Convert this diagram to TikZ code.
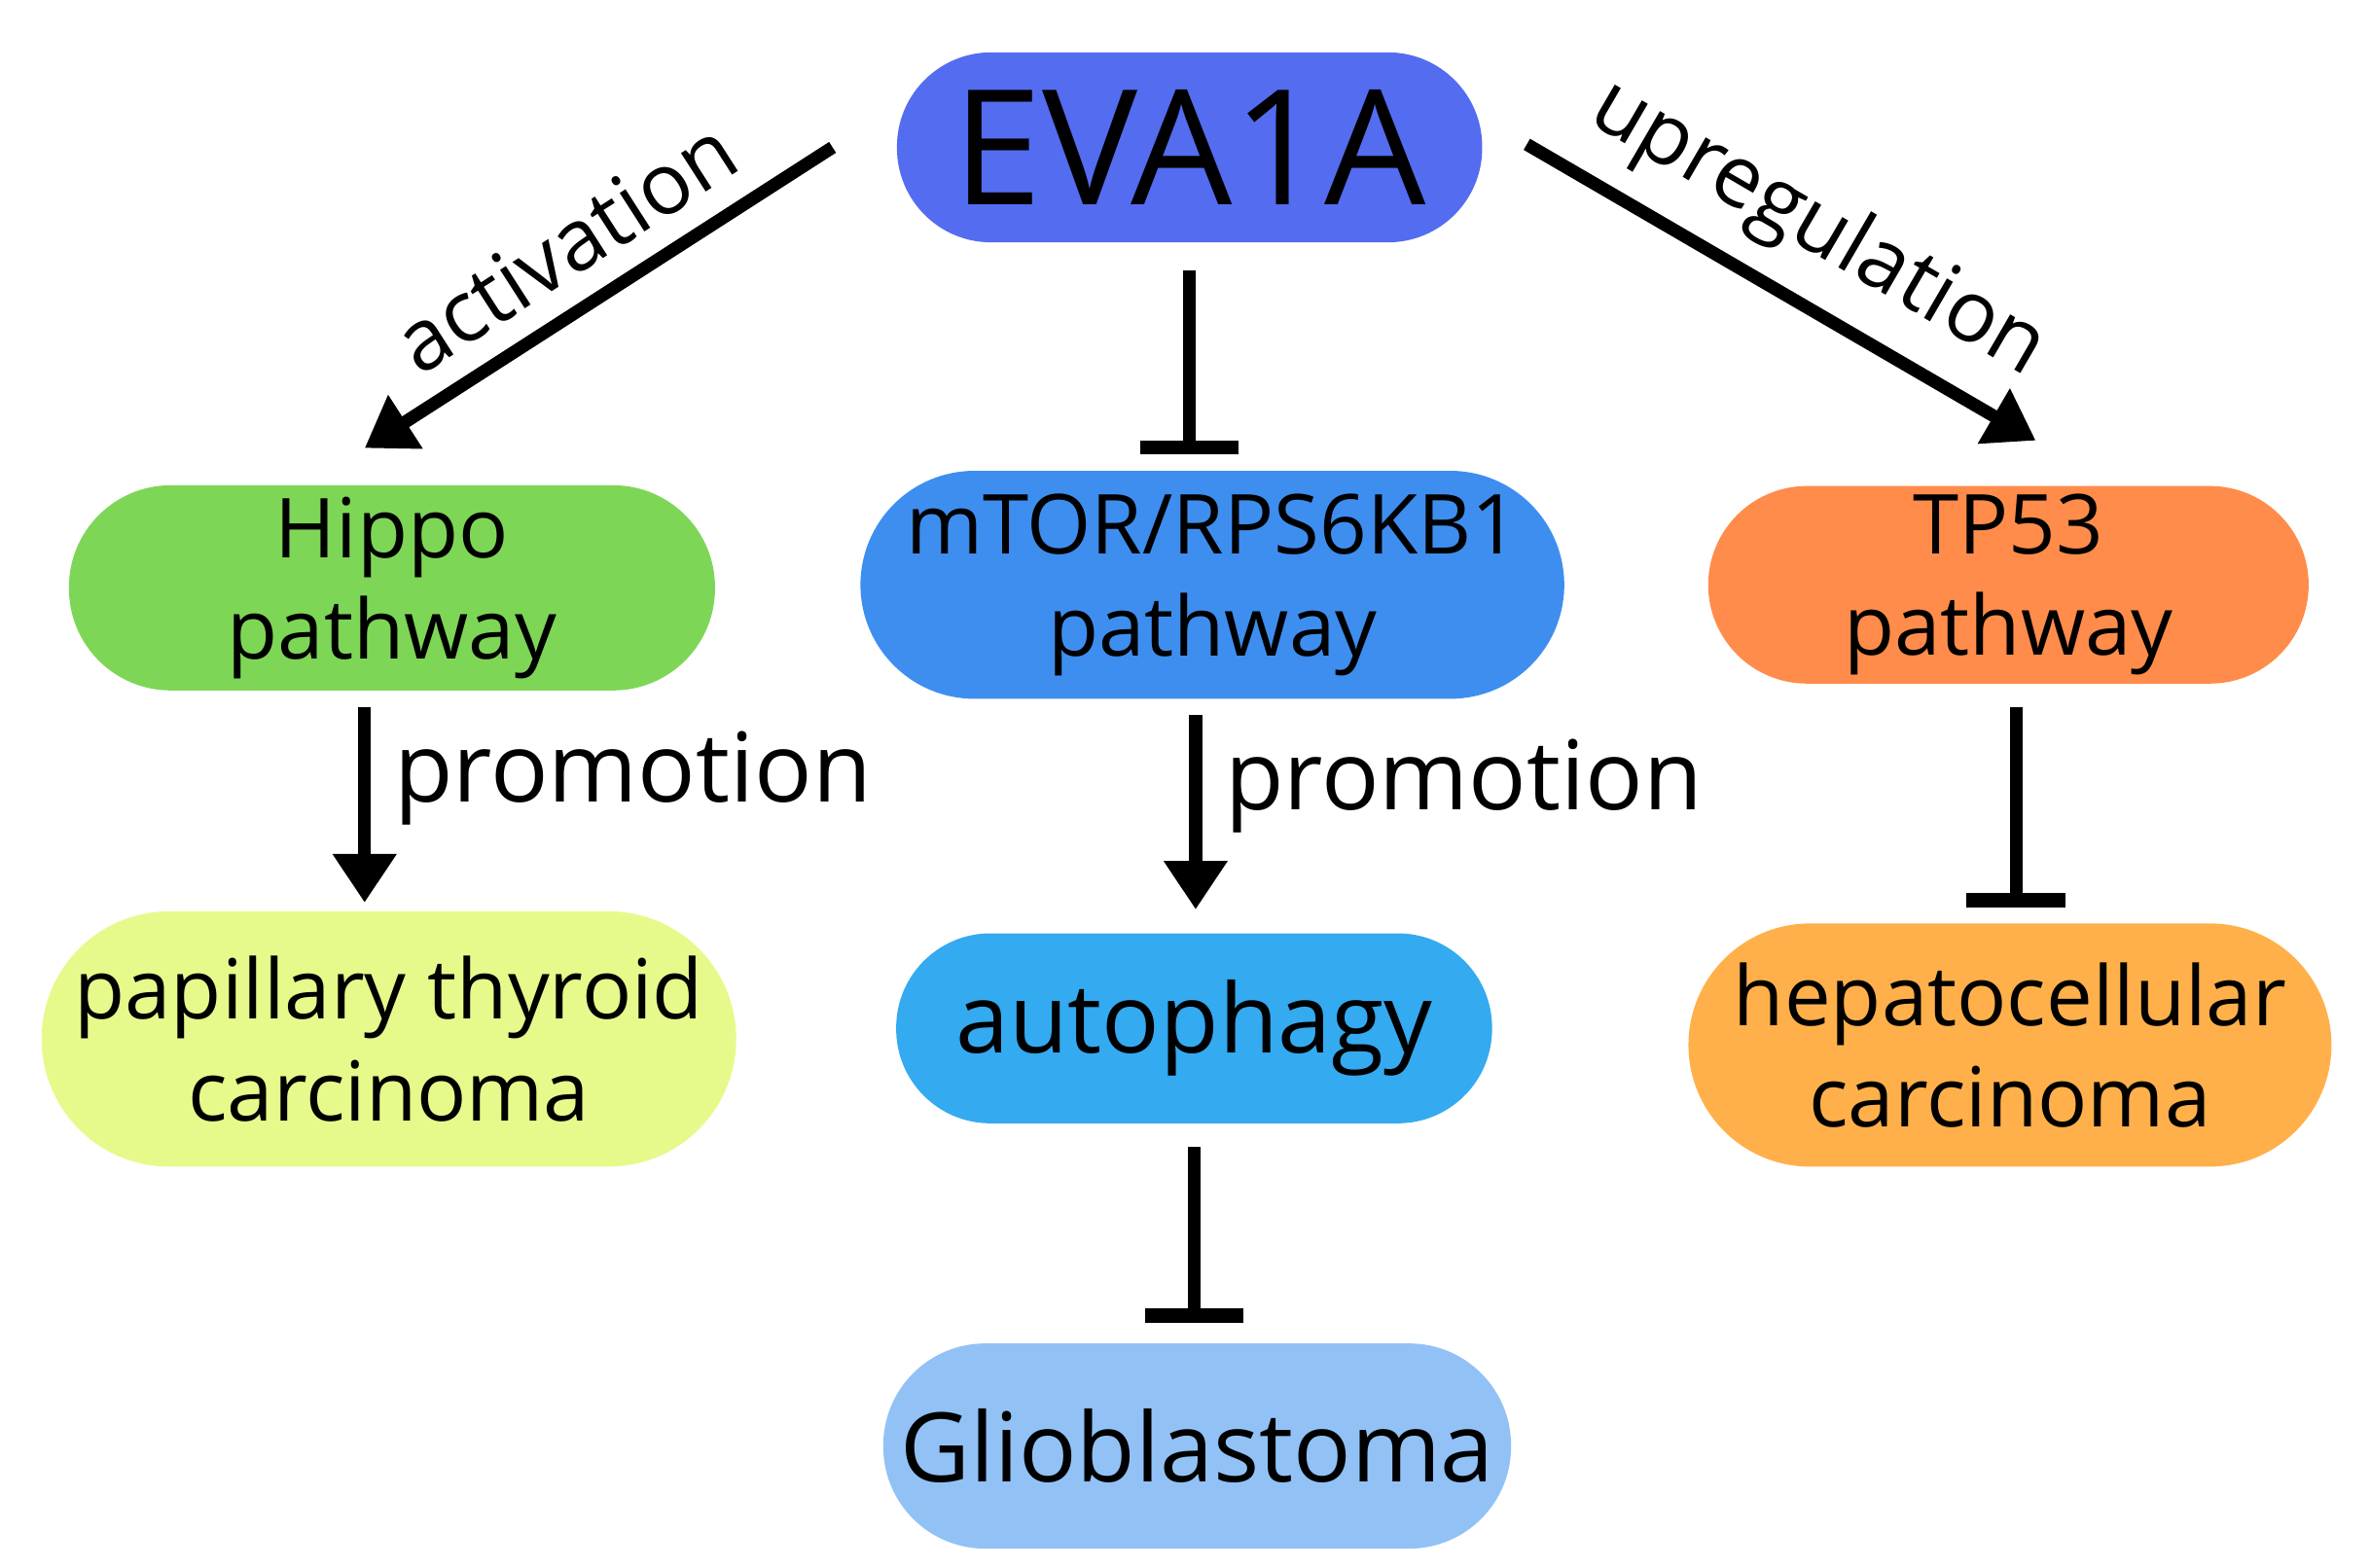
\documentclass[tikz,border=0pt]{standalone}
\usepackage{fontspec}
\setmainfont{Open Sans}
\usetikzlibrary{arrows.meta}
\begin{document}
\begin{tikzpicture}[x=0.01cm,y=-0.01cm,
  box/.style={minimum width=#1,align=center,inner sep=0pt,font=\fontsize{15.5}{19}\selectfont},
  con/.style={line width=2.4pt},
  act/.style={con,-{Triangle[length=0.32cm,width=0.4cm]}},
  inh/.style={con,-{Bar[width=0.65cm,line width=2.6pt]}},
  lab/.style={font=\fontsize{16}{19}\selectfont}]
\useasboundingbox (0,0) rectangle (1560,1032);
\node[box=3.85cm,minimum height=1.25cm,rounded corners=0.62cm,fill={rgb,255:red,84;green,108;blue,240},font=\fontsize{30}{34}\selectfont] (eva) at (783,97) {EVA1A};
\node[box=4.25cm,minimum height=1.35cm,rounded corners=0.67cm,fill={rgb,255:red,126;green,214;blue,86}] (hippo) at (258,387) {Hippo\\pathway};
\node[box=4.63cm,minimum height=1.5cm,rounded corners=0.75cm,fill={rgb,255:red,62;green,142;blue,240}] (mtor) at (798,385) {mTOR/RPS6KB1\\pathway};
\node[box=3.95cm,minimum height=1.3cm,rounded corners=0.65cm,fill={rgb,255:red,255;green,140;blue,74}] (tp) at (1322,385) {TP53\\pathway};
\node[box=4.57cm,minimum height=1.68cm,rounded corners=0.84cm,fill={rgb,255:red,230;green,250;blue,140}] (pap) at (256,684) {papillary thyroid\\carcinoma};
\node[box=3.92cm,minimum height=1.25cm,rounded corners=0.62cm,fill={rgb,255:red,52;green,170;blue,240},font=\fontsize{18}{22}\selectfont] (aut) at (786,677) {autophagy};
\node[box=4.23cm,minimum height=1.6cm,rounded corners=0.8cm,fill={rgb,255:red,255;green,176;blue,74}] (hep) at (1323,688) {hepatocellular\\carcinoma};
\node[box=4.13cm,minimum height=1.35cm,rounded corners=0.67cm,fill={rgb,255:red,146;green,194;blue,245},font=\fontsize{18}{22}\selectfont] (gli) at (788,952) {Glioblastoma};
\coordinate (a1) at (548,97); \coordinate (a2) at (240,295);
\coordinate (u1) at (1005,95); \coordinate (u2) at (1340,290);
\draw[act] (a1) -- node[lab,sloped,above=1pt] {activation} (a2);
\draw[act] (u1) -- node[lab,sloped,above=1pt] {upregulation} (u2);
\draw[inh,shorten <=0.18cm,shorten >=0.1cm] (eva.south) -- (eva.south |- mtor.north);
\draw[act,shorten <=0.1cm,shorten >=0.05cm] ([xshift=-0.18cm]hippo.south) -- ([xshift=-0.18cm]hippo.south |- pap.north) node[lab,midway,right=1pt,font=\fontsize{18}{22}\selectfont,yshift=0.15cm] {promotion};
\draw[act,shorten <=0.1cm,shorten >=0.15cm] ([xshift=-0.11cm]mtor.south) -- ([xshift=-0.11cm]mtor.south |- aut.north) node[lab,midway,right=1pt,font=\fontsize{18}{22}\selectfont,yshift=0.2cm] {promotion};
\draw[inh,shorten <=0.15cm,shorten >=0.1cm] ([xshift=0.05cm]tp.south) -- ([xshift=0.05cm]tp.south |- hep.north);
\draw[inh,shorten <=0.15cm,shorten >=0.13cm] (aut.south) -- (aut.south |- gli.north);
\end{tikzpicture}
\end{document}
